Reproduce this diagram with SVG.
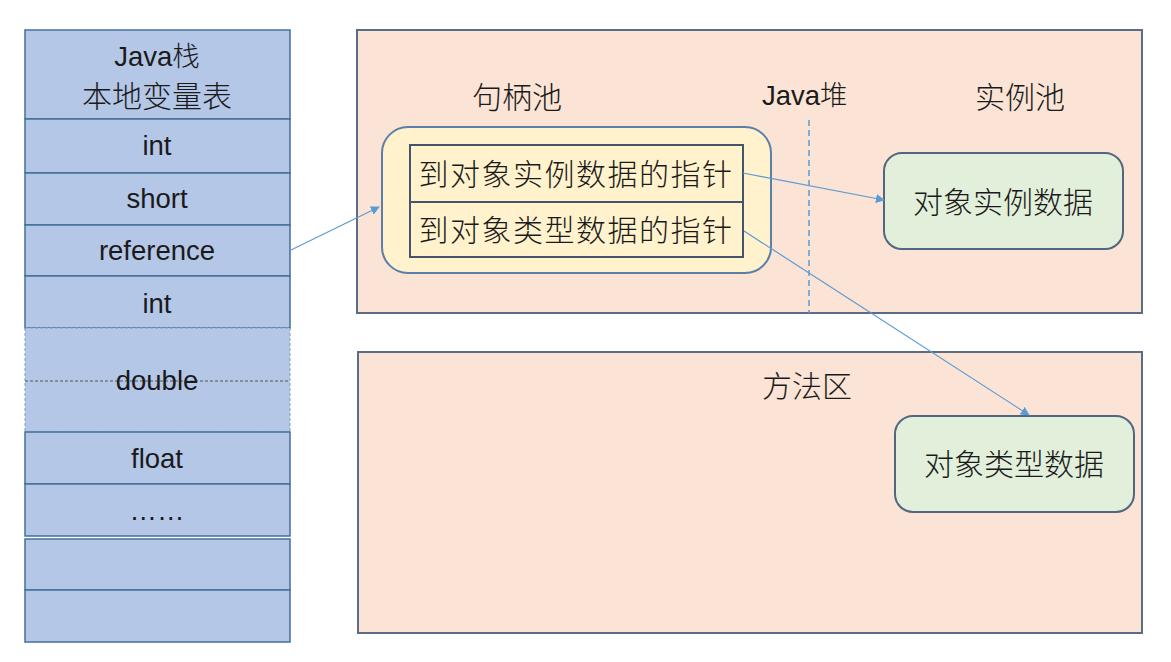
<svg xmlns="http://www.w3.org/2000/svg" width="1171" height="662" viewBox="0 0 1171 662">
<style>
.bg{fill:#ffffff}
.cell{fill:#b4c7e7;stroke:#41719c;stroke-width:1.5}
.lat{font-family:"Liberation Sans","Noto Sans CJK SC",sans-serif;font-size:27.5px;fill:#1a1a1a;text-anchor:middle}
.cjk{font-family:"Noto Sans CJK SC",sans-serif;font-size:30px;font-weight:300;fill:#1a1a1a;text-anchor:middle}
.area{fill:#fbe4d5;stroke:#5a6d85;stroke-width:2}
.pool{fill:#fff2cc;stroke:#5b7fa8;stroke-width:2}
.tbl{fill:#fff2cc;stroke:#44546a;stroke-width:2}
.data{fill:#e2efda;stroke:#52667f;stroke-width:2}
.conn{stroke:#5b9bd5;stroke-width:1.2;fill:none}
</style>
<defs>
<marker id="arr" viewBox="0 0 10 10" refX="9" refY="5" markerWidth="9" markerHeight="9" markerUnits="userSpaceOnUse" orient="auto">
<path d="M0,0 L10,5 L0,10 z" fill="#5b9bd5"/>
</marker>
</defs>
<rect class="bg" x="0" y="0" width="1171" height="662"/>

<g id="java-stack">
<rect class="cell" x="25" y="30" width="265" height="89"/>
<text class="lat" x="157" y="66" font-weight="300">Java栈</text>
<text class="cjk" x="157" y="107">本地变量表</text>
<rect class="cell" x="25" y="119" width="265" height="54"/>
<text class="lat" x="157" y="155">int</text>
<rect class="cell" x="25" y="173" width="265" height="52"/>
<text class="lat" x="157" y="208">short</text>
<rect class="cell" x="25" y="225" width="265" height="51"/>
<text class="lat" x="157" y="260">reference</text>
<rect class="cell" x="25" y="276" width="265" height="52"/>
<text class="lat" x="157" y="313">int</text>
<rect x="25" y="328" width="265" height="104" fill="#b4c7e7" stroke="#7f9fc6" stroke-width="1" stroke-dasharray="3,2"/>
<line x1="25" y1="381" x2="290" y2="381" stroke="#555" stroke-width="1" stroke-dasharray="3,2"/>
<text class="lat" x="157" y="390">double</text>
<rect class="cell" x="25" y="432" width="265" height="52"/>
<text class="lat" x="157" y="468">float</text>
<rect class="cell" x="25" y="484" width="265" height="52"/>
<text class="lat" x="157" y="520" font-size="22">……</text>
<rect class="cell" x="25" y="539" width="265" height="51"/>
<rect class="cell" x="25" y="590" width="265" height="52"/>
</g>

<g id="java-heap">
<rect class="area" x="357" y="30" width="785" height="283"/>
<text class="cjk" x="517" y="108">句柄池</text>
<text class="lat" x="762" y="105" font-weight="300" style="text-anchor:start">Java堆</text>
<text class="cjk" x="1020" y="108">实例池</text>
<line x1="809" y1="120" x2="809" y2="313" stroke="#5b9bd5" stroke-width="1.5" stroke-dasharray="6,4"/>
</g>

<g id="handle-pool">
<rect class="pool" x="382" y="127" width="389" height="146" rx="26" ry="26"/>
<rect class="tbl" x="410" y="145" width="333" height="57"/>
<text class="cjk" x="576" y="185" font-size="29" letter-spacing="1.5">到对象实例数据的指针</text>
<rect class="tbl" x="410" y="202" width="333" height="55"/>
<text class="cjk" x="576" y="241" font-size="29" letter-spacing="1.5">到对象类型数据的指针</text>
</g>

<g id="instance-data">
<rect class="data" x="884" y="153" width="239" height="96" rx="18" ry="18"/>
<text class="cjk" x="1003" y="213">对象实例数据</text>
</g>

<g id="method-area">
<rect class="area" x="358" y="352" width="784" height="281"/>
<text class="cjk" x="807" y="397">方法区</text>
</g>

<g id="type-data">
<rect class="data" x="895" y="416" width="239" height="96" rx="18" ry="18"/>
<text class="cjk" x="1014" y="475">对象类型数据</text>
</g>

<g id="connectors">
<line class="conn" x1="291" y1="250" x2="379" y2="207" marker-end="url(#arr)"/>
<line class="conn" x1="743" y1="173" x2="884" y2="200" marker-end="url(#arr)"/>
<line class="conn" x1="744" y1="231" x2="1029" y2="415" marker-end="url(#arr)"/>
</g>
</svg>
